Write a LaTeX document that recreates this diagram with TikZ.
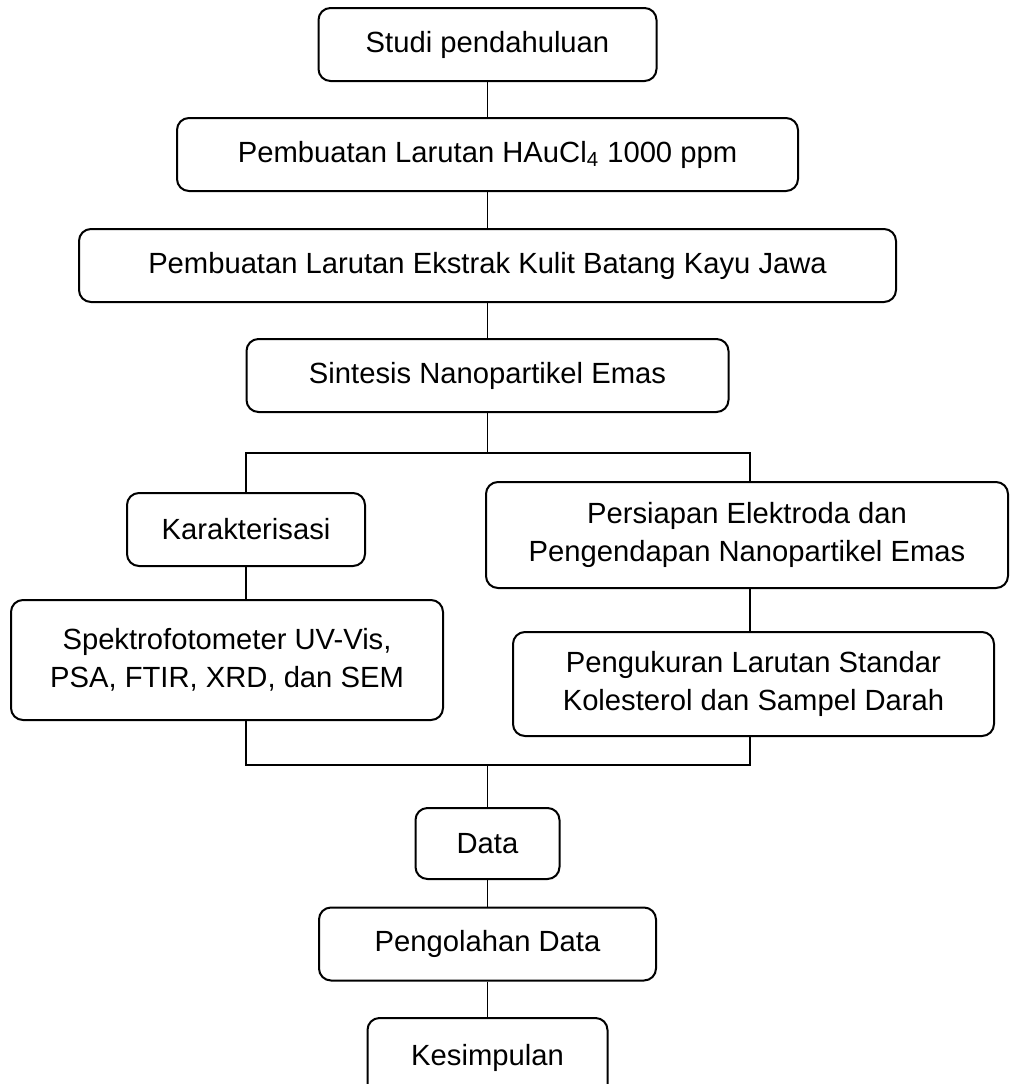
\documentclass[tikz,border=0pt]{standalone}
\usepackage{fontspec}
\setmainfont{Liberation Sans}
\usepackage{tikz}
\usetikzlibrary{positioning}
\tikzset{box/.style={draw, line width=1pt, rounded corners=6pt, align=center,
    minimum height=36.5pt, inner sep=2pt, font=\fontsize{14.6}{19}\selectfont},
  link/.style={line width=0.75pt}}

\begin{document}
\begin{tikzpicture}[x=0.5pt, y=-0.5pt]
  \useasboundingbox (0,0) rectangle (1009,1084);
  % kolom tengah
  \node[box, minimum width=169pt] (studi) at (487.5,44.5) {Studi pendahuluan};
  \node[box, minimum width=310.5pt] (haucl) at (487.5,154.5) {Pembuatan Larutan HAuCl\textsubscript{4} 1000 ppm};
  \node[box, minimum width=408.5pt] (ekstrak) at (487.5,265.5) {Pembuatan Larutan Ekstrak Kulit Batang Kayu Jawa};
  \node[box, minimum width=241pt] (sintesis) at (487.5,375.5) {Sintesis Nanopartikel Emas};
  % dua cabang
  \node[box, minimum width=119pt] (karakter) at (246,529.5) {Karakterisasi};
  \node[box, minimum width=216pt, minimum height=60pt] (spektro) at (227,660) {Spektrofotometer UV-Vis,\\PSA, FTIR, XRD, dan SEM};
  \node[box, minimum width=261pt, minimum height=53pt] (persiapan) at (747,535) {Persiapan Elektroda dan\\Pengendapan Nanopartikel Emas};
  \node[box, minimum width=240.5pt, minimum height=52pt] (ukur) at (753.5,684) {Pengukuran Larutan Standar\\Kolesterol dan Sampel Darah};
  % hasil
  \node[box, minimum width=72pt, minimum height=35.5pt] (data) at (487.5,843.5) {Data};
  \node[box, minimum width=168.5pt] (olah) at (487.5,944) {Pengolahan Data};
  \node[box, minimum width=120pt, minimum height=40pt, anchor=north] (simpul) at (487.5,1017) {Kesimpulan};

  \coordinate (cabang) at (487.5,453);
  \coordinate (kiri) at (246,453);
  \coordinate (kanan) at (750,453);
  \coordinate (gabung) at (487.5,765);
  \coordinate (kirib) at (246,765);
  \coordinate (kananb) at (750,765);

  \draw[link] (studi) -- (haucl);
  \draw[link] (haucl) -- (ekstrak);
  \draw[link] (ekstrak) -- (sintesis);
  \draw[link] (sintesis) -- (cabang);
  \draw[link] (karakter) -- (kiri) -- (kanan) -- (kanan |- persiapan.north);
  \draw[link] (karakter) -- (karakter.south |- spektro.north);
  \draw[link] (persiapan.south -| kanan) -- (ukur.north -| kanan);
  \draw[link] (spektro.south -| kirib) -- (kirib) -- (kananb) -- (kananb |- ukur.south);
  \draw[link] (gabung) -- (data);
  \draw[link] (data) -- (olah);
  \draw[link] (olah) -- (simpul);
\end{tikzpicture}
\end{document}
